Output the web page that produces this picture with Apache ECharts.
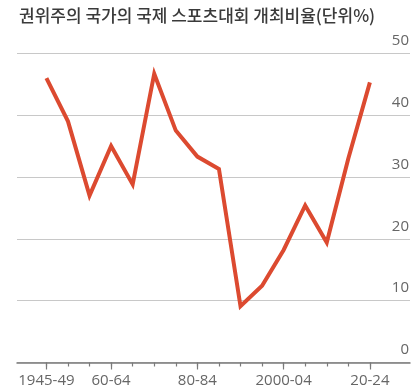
<!DOCTYPE html>
<html><head><meta charset="utf-8">
<style>html,body{margin:0;padding:0;background:#fff}#c{width:420px;height:392px}</style>
<script src="https://cdn.jsdelivr.net/npm/echarts@6/dist/echarts.min.js"></script>
</head><body><div id="c"></div>
<script>
var categories = ['1945-49','50-54','55-59','60-64','65-69','70-74','75-79','80-84','85-89','90-94','95-99','2000-04','05-09','10-14','15-19','20-24'];
var values = [46.0, 39.0, 27.0, 35.0, 28.8, 46.7, 37.5, 33.3, 31.3, 9.1, 12.4, 18.2, 25.4, 19.4, 33.0, 45.3];
var labeledIdx = [0, 3, 7, 11, 15];
var yTicks = [0, 10, 20, 30, 40, 50];

var idx = categories.map(function(_, i){ return i; });
var chart = echarts.init(document.getElementById('c'), null, {renderer:'canvas'});
var font = "'Open Sans', 'Noto Sans', sans-serif";
var xMin = -1.364, xMax = 16.86;
var gridPos = {left: 17, right: 10, top: 53.3, bottom: 29.5};
chart.setOption({
  animation: false,
  title: {
    text: '권위주의 국가의 국제 스포츠대회 개최비율(단위%)',
    left: 14, top: 2,
    textStyle: {fontFamily: "'Noto Sans CJK KR', sans-serif", fontSize: 17, fontWeight: 500, color: '#3a3a3a'}
  },
  grid: [
    Object.assign({}, gridPos),
    Object.assign({}, gridPos)
  ],
  xAxis: [{
    type: 'value', gridIndex: 0, min: xMin, max: xMax,
    axisLine: {show: true, lineStyle: {color: '#7a7a7a', width: 1.5}},
    axisTick: {show: true, customValues: idx, length: 4, lineStyle: {color: '#7a7a7a', width: 1.2}},
    axisLabel: {show: true, customValues: labeledIdx, margin: 11, fontFamily: font, fontSize: 15, color: '#666',
      formatter: function(v){ return categories[Math.round(v)]; }},
    splitLine: {show: false}
  }, {
    type: 'value', gridIndex: 1, min: xMin, max: xMax,
    axisLine: {show: false},
    axisTick: {show: true, customValues: labeledIdx, length: 7, lineStyle: {color: '#7a7a7a', width: 1.2}},
    axisLabel: {show: false},
    splitLine: {show: false}
  }],
  yAxis: [{
    type: 'value', gridIndex: 0, position: 'right', min: 0, max: 50, interval: 10,
    axisLine: {show: false}, axisTick: {show: false},
    axisLabel: {inside: true, margin: 1, verticalAlign: 'bottom', padding: [0,0,5,0], fontFamily: font, fontSize: 15, color: '#666',
      formatter: function(v){ return yTicks.indexOf(v) >= 0 ? String(v) : ''; }},
    splitLine: {show: true, lineStyle: {color: '#c8c8c8', width: 1.2}}
  }, {
    type: 'value', gridIndex: 1, min: 0, max: 50, show: false
  }],
  series: [{
    type: 'line', xAxisIndex: 0, yAxisIndex: 0,
    data: values.map(function(v, i){ return [i, v]; }),
    symbol: 'none',
    lineStyle: {color: '#dc4a30', width: 4, join: 'miter'},
    itemStyle: {color: '#dc4a30'}
  }]
});
</script></body></html>
